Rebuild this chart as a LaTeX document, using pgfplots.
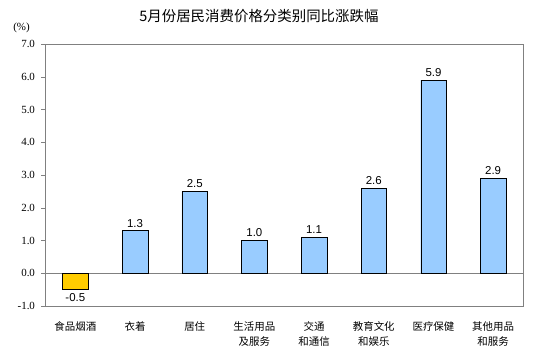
\documentclass[border=0pt]{standalone}
\usepackage{pgfplots}
\pgfplotsset{compat=1.18}
\usepackage{fontspec}
\setmainfont{Liberation Sans}
\newfontfamily\serifnum{Liberation Serif}
\newfontfamily\cjk{Noto Sans CJK SC}
\definecolor{barblue}{RGB}{153,204,255}
\definecolor{baryel}{RGB}{255,204,0}
\begin{document}
\begin{tikzpicture}
\path[use as bounding box] (-45.5bp,-52bp) rectangle (490.5bp,306bp);
\begin{axis}[
  at={(0,0)}, anchor=south west,
  scale only axis, width=477.5bp, height=262bp,
  xmin=-0.5, xmax=7.5, ymin=-1, ymax=7,
  ybar, bar width=25.5bp,
  axis line style={gray},
  xtick={0,...,7}, xtick style={draw=none},
  xticklabels={食品烟酒,衣着,居住,{生活用品\\及服务},{交通\\和通信},{教育文化\\和娱乐},医疗保健,{其他用品\\和服务}},
  xticklabel style={font=\cjk\fontsize{10.5}{15}\selectfont, align=center, anchor=north, yshift=-8bp},
  ytick={-1,0,...,7},
  yticklabel style={font=\serifnum\fontsize{11}{12}\selectfont, xshift=-3bp, /pgf/number format/.cd, fixed, fixed zerofill, precision=1},
  /pgf/number format/assume math mode=true,
  ytick style={gray}, tick align=outside, major tick length=4bp,
  ytick pos=left,
  extra y ticks={0}, extra y tick labels={}, extra y tick style={grid=major, major grid style={gray}, major tick length=0pt},
  nodes near coords, 
  nodes near coords style={font=\fontsize{11.5}{12}\selectfont, /pgf/number format/.cd, fixed, fixed zerofill, precision=1, assume math mode=true},
  clip=false,
]
\addplot[draw=black, fill=baryel, bar shift=0pt] coordinates {(0,-0.5)};
\addplot[draw=black, fill=barblue, bar shift=0pt] coordinates {(1,1.3) (2,2.5) (3,1.0) (4,1.1) (5,2.6) (6,5.9) (7,2.9)};
\node[font=\cjk\fontsize{14.5}{15}\selectfont] at ([yshift=28bp]rel axis cs:0.447,1) {5月份居民消费价格分类别同比涨跌幅};
\node[font=\serifnum\fontsize{11}{12}\selectfont] at ([xshift=-24bp,yshift=16bp]rel axis cs:0,1) {(\%)};
\end{axis}
\end{tikzpicture}
\end{document}
